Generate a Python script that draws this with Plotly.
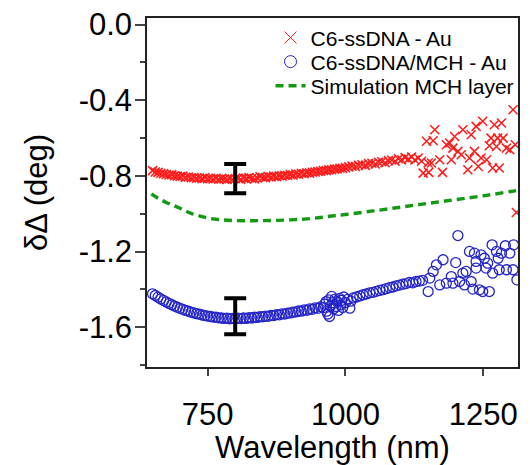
import plotly.graph_objects as go

# ---------------- data ----------------
red_x = [650, 655, 660, 665, 670, 675, 680, 685, 690, 695, 700, 705, 710, 715, 720, 725, 730, 735, 740, 745,
         750, 755, 760, 765, 770, 775, 780, 785, 790, 795, 800, 805, 810, 815, 820, 825, 830, 835, 840, 845,
         850, 855, 860, 865, 870, 875, 880, 885, 890, 895, 900, 905, 910, 915, 920, 925, 930, 935, 940, 945,
         950, 955, 960, 965, 970, 975, 980, 985, 990, 995, 1000,
         1006, 1012, 1018, 1024, 1030, 1036, 1042, 1048, 1054, 1060, 1066, 1072, 1078, 1084, 1090, 1096, 1102,
         1108, 1114, 1120, 1126, 1132, 1138,
         1141, 1147, 1150, 1151, 1156, 1159, 1162, 1171, 1176, 1183, 1189, 1192, 1195, 1198, 1204, 1210, 1213,
         1222, 1225, 1228, 1234, 1237, 1241, 1246, 1249, 1256, 1261, 1264, 1267, 1270, 1274, 1276, 1279, 1283,
         1286, 1292, 1298, 1304, 1308, 1310]
red_y = [-0.772, -0.779, -0.781, -0.786, -0.788, -0.792, -0.795, -0.793, -0.799, -0.801, -0.803, -0.800, -0.807,
         -0.806, -0.810, -0.808, -0.812, -0.811, -0.814, -0.810, -0.815, -0.813, -0.816, -0.812, -0.817, -0.814,
         -0.816, -0.819, -0.813, -0.817, -0.815, -0.812, -0.818, -0.811, -0.814, -0.809, -0.813, -0.816, -0.811,
         -0.804, -0.808, -0.809, -0.803, -0.806, -0.801, -0.804, -0.799, -0.801, -0.796, -0.798, -0.793, -0.795,
         -0.790, -0.791, -0.786, -0.788, -0.783, -0.785, -0.780, -0.779, -0.776, -0.775, -0.771, -0.772, -0.768,
         -0.767, -0.764, -0.763, -0.759, -0.760, -0.756,
         -0.752, -0.748, -0.750, -0.743, -0.741, -0.744, -0.735, -0.733, -0.737, -0.728, -0.725, -0.730, -0.719,
         -0.716, -0.722, -0.709, -0.714, -0.703, -0.711, -0.700, -0.716, -0.705, -0.722,
         -0.785, -0.617, -0.732, -0.781, -0.732, -0.614, -0.556, -0.714, -0.781, -0.635, -0.626, -0.714, -0.653,
         -0.591, -0.670, -0.688, -0.556, -0.767, -0.705, -0.582, -0.670, -0.538, -0.750, -0.705, -0.511, -0.714,
         -0.640, -0.600, -0.758, -0.529, -0.644, -0.600, -0.758, -0.520, -0.600, -0.653, -0.661, -0.450, -0.635,
         -0.993]

blue_x = [650, 655, 660, 665, 670, 675, 680, 685, 690, 695, 700, 705, 710, 715, 720, 725, 730, 735, 740, 745,
          750, 755, 760, 765, 770, 775, 780, 785, 790, 795, 800, 805, 810, 815, 820, 825, 830, 835, 840, 845,
          850, 855, 860, 865, 870, 875, 880, 885, 890, 895, 900, 905, 910, 915, 920, 925, 930, 935, 940, 945,
          950, 955, 960,
          962, 965, 966, 968, 970, 971, 973, 975, 977, 979, 981, 983, 985, 987, 989, 991, 993, 995, 997, 1000,
          1004, 1008, 1010,
          1014, 1020, 1026, 1032, 1038, 1044, 1050, 1056, 1062, 1068, 1074, 1080, 1086, 1092, 1098, 1104, 1110,
          1116, 1122, 1128, 1134, 1140,
          1150, 1153, 1159, 1165, 1171, 1177, 1183, 1192, 1195, 1200, 1204, 1207, 1213, 1216, 1219, 1225, 1228,
          1231, 1234, 1237, 1237, 1243, 1246, 1249, 1252, 1255, 1258, 1261, 1266, 1267, 1274, 1277, 1279, 1283,
          1290, 1292, 1298, 1304, 1305, 1311]
blue_y = [-1.423, -1.432, -1.441, -1.450, -1.458, -1.466, -1.474, -1.481, -1.488, -1.494, -1.500, -1.505, -1.511,
          -1.515, -1.520, -1.524, -1.528, -1.531, -1.535, -1.538, -1.541, -1.543, -1.546, -1.547, -1.550, -1.551,
          -1.553, -1.552, -1.555, -1.553, -1.555, -1.552, -1.554, -1.551, -1.553, -1.549, -1.551, -1.547, -1.548,
          -1.544, -1.545, -1.541, -1.542, -1.537, -1.538, -1.533, -1.534, -1.529, -1.530, -1.525, -1.524, -1.520,
          -1.519, -1.514, -1.515, -1.508, -1.510, -1.503, -1.505, -1.497, -1.500, -1.492, -1.496,
          -1.478, -1.464, -1.515, -1.530, -1.455, -1.543, -1.487, -1.437, -1.470, -1.502, -1.451, -1.490, -1.465,
          -1.511, -1.447, -1.482, -1.458, -1.495, -1.440, -1.470, -1.452, -1.499, -1.462,
          -1.445, -1.440, -1.434, -1.428, -1.424, -1.418, -1.415, -1.410, -1.405, -1.401, -1.396, -1.390, -1.387,
          -1.381, -1.377, -1.372, -1.369, -1.363, -1.365, -1.358, -1.356, -1.352,
          -1.411, -1.340, -1.305, -1.270, -1.376, -1.243, -1.367, -1.332, -1.367, -1.258, -1.115, -1.358, -1.314,
          -1.376, -1.305, -1.199, -1.358, -1.398, -1.208, -1.252, -1.287, -1.402, -1.217, -1.411, -1.235, -1.287,
          -1.261, -1.411, -1.164, -1.314, -1.199, -1.235, -1.296, -1.208, -1.169, -1.296, -1.208, -1.296, -1.164,
          -1.349]

sim_x = [648, 660, 675, 690, 705, 720, 740, 760, 780, 800, 825, 850, 875, 900, 925, 950, 975, 1000,
         1050, 1100, 1150, 1200, 1250, 1300, 1310]
sim_y = [-0.895, -0.918, -0.940, -0.958, -0.978, -0.998, -1.015, -1.027, -1.033, -1.036, -1.037, -1.036,
         -1.035, -1.032, -1.028, -1.021, -1.012, -1.004, -0.985, -0.965, -0.945, -0.925, -0.905, -0.882, -0.877]

err_x = [800, 800]
err_y = [-0.814, -1.542]
err_size = [0.077, 0.095]

series_names = ["C6-ssDNA - Au", "C6-ssDNA/MCH - Au", "Simulation MCH layer"]

y_tickvals = [0.0, -0.4, -0.8, -1.2, -1.6]
y_ticktext = ["0.0", "-0.4", "-0.8", "-1.2", "-1.6"]
x_tickvals = [750, 1000, 1250]

RED = "#ff1a1a"
BLUE = "#2424c8"
GREEN = "#139a13"
FONT = "Arial"

fig = go.Figure()

fig.add_trace(go.Scatter(x=red_x, y=red_y, mode="markers", showlegend=False,
                         marker=dict(symbol="x-thin", size=9, color=RED, line=dict(color=RED, width=1.5))))
fig.add_trace(go.Scatter(x=blue_x, y=blue_y, mode="markers", showlegend=False,
                         marker=dict(symbol="circle-open", size=10, color=BLUE, line=dict(color=BLUE, width=1.3))))
fig.add_trace(go.Scatter(x=sim_x, y=sim_y, mode="lines", showlegend=False, line_shape="spline",
                         line=dict(color=GREEN, width=3.4, dash="8px,5px")))
fig.add_trace(go.Scatter(x=err_x, y=err_y, mode="markers", showlegend=False,
                         marker=dict(size=1, color="rgba(0,0,0,0)"),
                         error_y=dict(type="data", array=err_size, color="black", thickness=4, width=11)))

# legend entries (one legend per entry to control row spacing)
fig.add_trace(go.Scatter(x=[None], y=[None], mode="markers", name=series_names[0], legend="legend",
                         marker=dict(symbol="x-thin", size=12, color=RED, line=dict(color=RED, width=1))))
fig.add_trace(go.Scatter(x=[None], y=[None], mode="markers", name=series_names[1], legend="legend2",
                         marker=dict(symbol="circle-open", size=12, color=BLUE, line=dict(color=BLUE, width=1))))
fig.add_trace(go.Scatter(x=[None], y=[None], mode="lines", name=series_names[2], legend="legend3",
                         line=dict(color=GREEN, width=3.4, dash="8px,5px")))

leg_common = dict(x=0.333, xanchor="left", yanchor="middle", bgcolor="rgba(0,0,0,0)",
                  font=dict(size=21, family=FONT, color="black"), itemwidth=30)

# the page body adds an 8px offset; the figure is sized to fit the window
fig.update_layout(
    width=522, height=457,
    margin=dict(l=139, r=12, t=10, b=98, autoexpand=False),
    paper_bgcolor="white", plot_bgcolor="white",
    font=dict(family=FONT, color="black"),
    legend=dict(y=0.943, **leg_common),
    legend2=dict(y=0.874, **leg_common),
    legend3=dict(y=0.805, **leg_common),
    xaxis=dict(range=[640, 1313], tickvals=x_tickvals, ticks="outside", ticklen=7, tickwidth=1.5,
               showline=True, linecolor="#222", linewidth=1.5, mirror=True, showgrid=False, zeroline=False,
               tickfont=dict(size=31, family=FONT), ticklabelstandoff=12, ticklabeloverflow="allow",
               title=dict(text="Wavelength (nm)", font=dict(size=31, family=FONT), standoff=6)),
    yaxis=dict(range=[-1.81, 0.035], tickvals=y_tickvals, ticktext=y_ticktext, ticks="outside", ticklen=10,
               tickwidth=1.5, showline=True, linecolor="#222", linewidth=1.5, mirror=True, showgrid=False,
               zeroline=False, tickfont=dict(size=31, family=FONT), ticklabelstandoff=-3,
               ticklabeloverflow="allow",
               minor=dict(tickvals=[-0.2, -0.6, -1.0, -1.4, -1.8], ticks="outside", ticklen=5, tickwidth=1.5),
               title=dict(text="δΔ (deg)", font=dict(size=31, family=FONT), standoff=22)),
)

fig.write_html("out.html")
